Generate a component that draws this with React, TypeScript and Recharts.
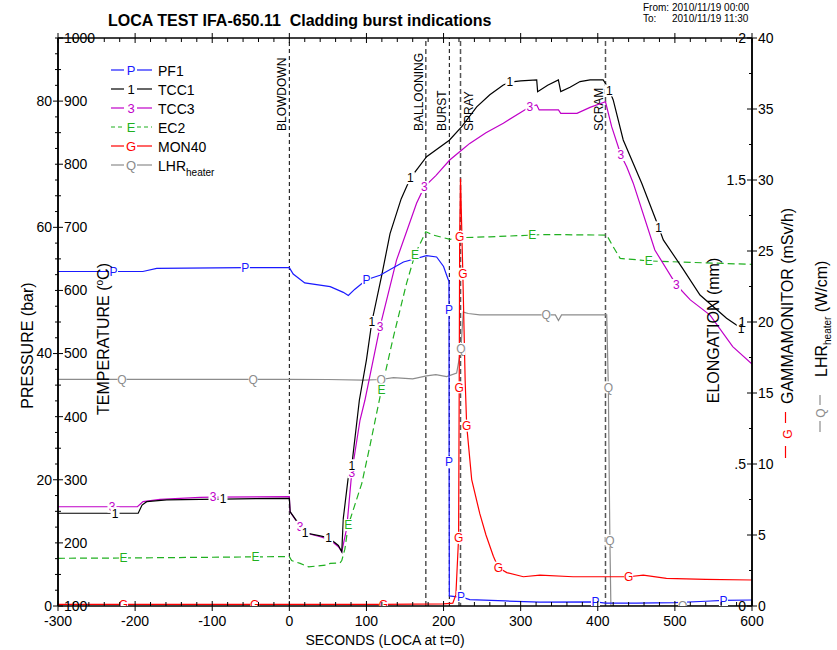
import React from 'react';
import { LineChart, Line, XAxis, YAxis, ReferenceLine } from 'recharts';

const FONT = '"Liberation Sans", Arial, Helvetica, sans-serif';

// PF1 – pressure (bar)
const pf1Time = [-300, -228, -190, -172, -57, 0, 5, 20, 53, 70, 76.5, 85, 100, 117.6, 148, 178, 191, 200, 204, 207, 207.1, 207.2, 207.5, 215, 222.6, 234, 280, 325, 397, 410, 450, 500, 540, 563, 600];
const pf1Val = [53.0, 53.0, 53.0, 53.5, 53.6, 53.6, 52.6, 51.2, 50.6, 49.7, 49.2, 50.2, 51.7, 52.4, 54.5, 55.5, 55.3, 53.8, 52.4, 51.4, 46.9, 22.8, 1.6, 1.5, 1.45, 1.0, 0.8, 0.6, 0.65, 0.45, 0.45, 0.55, 0.75, 0.9, 0.95];
const pf1Marks = [-228, -57, 100, 207.1, 207.2, 222.6, 397, 563];

// TCC1 – cladding temperature (°C)
const tcc1Time = [-300, -226, -196, -191, -185, -159, -116, -86, 0, 1, 14, 20.4, 40, 51, 63.6, 68, 70, 76.5, 81, 90.8, 100, 107, 120, 130.6, 145, 157, 178, 207.5, 223.6, 243, 260, 277.5, 286, 300, 320.8, 322, 335, 348.9, 352, 364, 377, 390, 407, 410, 415, 420, 433, 457, 479, 485, 510, 532.6, 567, 586];
const tcc1Val = [247, 247, 247, 260, 265.3, 268, 269, 269.5, 270.6, 249.4, 227, 216, 211, 208, 196, 186, 239, 305, 323, 426, 490, 550, 625, 690, 745, 778, 812, 838, 859.5, 891, 910, 925.5, 930, 932, 933.5, 915, 925, 933.5, 915, 922, 931, 933.5, 933.5, 928, 917, 901.8, 838.4, 769.8, 700, 680, 635, 592.8, 556, 540];
const tcc1Marks = [-226, -86, 20.4, 51, 81, 107, 157, 286, 415, 479, 586];

// TCC3 – cladding temperature (°C)
const tcc3Time = [-300, -230, -197, -189.7, -167.7, -115.8, -99, 0, 1, 14, 22.5, 40, 53, 63.6, 68, 74.4, 81, 91.7, 98, 117.6, 139, 165, 175, 190, 208, 223.6, 234, 255, 277.5, 312, 320.8, 324, 349, 352, 373, 390, 410, 418, 430, 437.5, 446, 474, 502, 520, 545.6, 575, 600];
const tcc3Val = [257.3, 257.3, 257.3, 265.3, 269, 272.2, 272.5, 273.2, 249.4, 225.6, 215.2, 209.8, 204.6, 194, 186, 223, 312, 394.7, 426, 542.6, 648, 738, 764, 782, 806.7, 822.6, 833, 850, 865, 891, 893.9, 886, 886, 880.6, 880.6, 890, 899, 859.5, 814.6, 796, 770, 664, 608.6, 585, 561, 511, 483.5];
const tcc3Marks = [-230, -99, 14, 81, 117.6, 175, 312, 430, 502];

// EC2 – elongation (mm)
const ec2Time = [-300, -215, -44, 0, 3, 14, 25, 48.5, 53, 65.8, 68, 72, 76.5, 94, 105, 119.6, 135, 152, 163, 177, 187, 208.4, 223.6, 260, 315, 330, 411.6, 420, 429, 455, 466, 520, 600];
const ec2Val = [0.168, 0.169, 0.173, 0.174, 0.16, 0.15, 0.138, 0.144, 0.15, 0.152, 0.16, 0.2, 0.285, 0.432, 0.57, 0.763, 0.948, 1.136, 1.238, 1.318, 1.306, 1.291, 1.297, 1.3, 1.306, 1.308, 1.306, 1.265, 1.224, 1.218, 1.215, 1.21, 1.203];
const ec2Marks = [-215, -44, 76.5, 119.6, 163, 315, 466];

// MON40 – gamma monitor (mSv/h)
const mon40Time = [-300, -215, -45, 0, 122, 200, 212, 216, 219.5, 220.3, 220.9, 222, 225, 228, 230, 236.5, 247, 255, 264.6, 271, 282, 303.5, 325, 368, 411.6, 440, 459, 489, 540, 600];
const mon40Val = [0.12, 0.12, 0.12, 0.12, 0.12, 0.15, 0.2, 0.8, 4.8, 15.4, 26, 30.1, 23.4, 15.9, 12.7, 8.9, 6.5, 5.0, 3.5, 2.7, 2.35, 2.06, 2.18, 2.06, 2.06, 2.06, 2.18, 1.95, 1.88, 1.83];
const mon40Marks = [-215, -45, 122, 219.5, 220.3, 220.9, 225, 230, 271, 440];

// LHR heater (W/cm)
const lhrTime = [-300, -217, -47, 0, 50, 96, 119, 135, 160, 178, 190, 204, 217, 222.5, 225.6, 232, 247, 290, 333, 345, 349, 353, 380, 411.6, 413.7, 415.7, 417, 450, 510, 600];
const lhrVal = [15.96, 15.96, 15.96, 15.96, 15.95, 15.9, 15.95, 16.08, 16.0, 16.2, 16.3, 16.15, 16.4, 18.1, 20.7, 20.6, 20.5, 20.5, 20.5, 20.5, 20.1, 20.5, 20.5, 20.5, 15.4, 4.6, 0, 0, 0, 0];
const lhrMarks = [-217, -47, 119, 222.5, 333, 413.7, 415.7, 510];

// events (seconds)
const eventNames = ['BLOWDOWN', 'BALLOONING', 'BURST', 'SPRAY', 'SCRAM'];
const eventTimes = [0, 177, 207.5, 222, 410];

// axis ticks
const xTicks = Array.from({ length: 46 }, (_, i) => -300 + i * 20);
const pTicks = Array.from({ length: 37 }, (_, i) => i * 2.5);
const tTicks = Array.from({ length: 19 }, (_, i) => 100 + i * 50);
const eTicks = Array.from({ length: 17 }, (_, i) => i * 0.125);
const gTicks = [0, 5, 10, 15, 20, 25, 30, 35, 40];

const BLUE = '#1a1aff';
const BLACK = '#000000';
const MAGENTA = '#c000c8';
const GREEN = '#20b020';
const RED = '#ff0000';
const GRAY = '#8c8c8c';

const toPoints = (t: number[], v: number[]) => t.map((x, i) => ({ t: x, v: v[i] }));

const AXIS = { stroke: '#000', strokeWidth: 1.5 };

const BottomTick = (p: any) => {
  const { x, y, payload } = p;
  const v = payload.value;
  if (v % 100 === 0) {
    return (
      <g>
        <line x1={x} x2={x} y1={y - 5} y2={y + 5} stroke="#000" />
        <text x={x} y={y + 20} textAnchor="middle" fontSize={14} fontFamily={FONT} fill="#000">{v}</text>
      </g>
    );
  }
  return <line x1={x} x2={x} y1={y} y2={y - 4} stroke="#000" />;
};

const TopTick = (p: any) => {
  const { x, y, payload } = p;
  const v = payload.value;
  if (v % 100 === 0) return <line x1={x} x2={x} y1={y - 5} y2={y + 5} stroke="#000" />;
  return <line x1={x} x2={x} y1={y} y2={y + 4} stroke="#000" />;
};

const PressureTick = (p: any) => {
  const { x, y, payload } = p;
  const v = payload.value;
  if (v % 20 === 0) {
    return (
      <g>
        <line x1={x - 5} x2={x} y1={y} y2={y} stroke="#000" />
        <text x={x - 6} y={y} dy="0.35em" textAnchor="end" fontSize={14} fontFamily={FONT} fill="#000">{v}</text>
      </g>
    );
  }
  return <line x1={x - 3} x2={x} y1={y} y2={y} stroke="#000" />;
};

const TempTick = (p: any) => {
  const { x, y, payload } = p;
  const v = payload.value;
  if (v % 100 === 0) {
    return (
      <g>
        <line x1={x} x2={x + 5} y1={y} y2={y} stroke="#000" />
        <text x={x + 6} y={y} dy="0.35em" textAnchor="start" fontSize={14} fontFamily={FONT} fill="#000">{v}</text>
      </g>
    );
  }
  return <line x1={x} x2={x + 3} y1={y} y2={y} stroke="#000" />;
};

const ElongTick = (p: any) => {
  const { x, y, payload } = p;
  const v = payload.value;
  const major = Number.isInteger(v * 4);
  const labelled = Number.isInteger(v * 2);
  const txt = v === 0.5 ? '.5' : String(v);
  return (
    <g>
      <line x1={x - (major ? 5 : 3)} x2={x} y1={y} y2={y} stroke="#000" />
      {labelled && (
        <text x={x - 6} y={y} dy="0.35em" textAnchor="end" fontSize={14} fontFamily={FONT} fill="#000">{txt}</text>
      )}
    </g>
  );
};

const GammaTick = (p: any) => {
  const { x, y, payload } = p;
  return (
    <g>
      <line x1={x} x2={x + 5} y1={y} y2={y} stroke="#000" />
      <text x={x + 6} y={y} dy="0.35em" textAnchor="start" fontSize={14} fontFamily={FONT} fill="#000">{payload.value}</text>
    </g>
  );
};

const EventLabel = (p: any) => {
  const { viewBox, text, dx } = p;
  const x = viewBox.x + dx;
  return (
    <text transform={`translate(${x},131) rotate(-90)`} fontSize={12} fontFamily={FONT} fill="#000">{text}</text>
  );
};

const makeMark = (letter: string, color: string, marks: number[]) => (p: any) => {
  const { cx, cy, payload, index } = p;
  const k = `m-${letter}-${index}`;
  if (cx == null || !payload || !marks.includes(payload.t)) return <g key={k} />;
  return (
    <g key={k}>
      <rect x={cx - 4.5} y={cy - 6} width={9} height={12} fill="#fff" />
      <text x={cx} y={cy} dy="0.36em" textAnchor="middle" fontSize={12} fontFamily={FONT} fill={color}>{letter}</text>
    </g>
  );
};

const series = [
  { name: 'LHR', letter: 'Q', color: GRAY, axis: 'G', data: toPoints(lhrTime, lhrVal), marks: lhrMarks, dash: undefined },
  { name: 'EC2', letter: 'E', color: GREEN, axis: 'E', data: toPoints(ec2Time, ec2Val), marks: ec2Marks, dash: '7 4' },
  { name: 'TCC3', letter: '3', color: MAGENTA, axis: 'T', data: toPoints(tcc3Time, tcc3Val), marks: tcc3Marks, dash: undefined },
  { name: 'TCC1', letter: '1', color: BLACK, axis: 'T', data: toPoints(tcc1Time, tcc1Val), marks: tcc1Marks, dash: undefined },
  { name: 'PF1', letter: 'P', color: BLUE, axis: 'p', data: toPoints(pf1Time, pf1Val), marks: pf1Marks, dash: undefined },
  { name: 'MON40', letter: 'G', color: RED, axis: 'G', data: toPoints(mon40Time, mon40Val), marks: mon40Marks, dash: undefined },
];

const legendRows = [
  { letter: 'P', name: 'PF1', color: BLUE },
  { letter: '1', name: 'TCC1', color: BLACK },
  { letter: '3', name: 'TCC3', color: MAGENTA },
  { letter: 'E', name: 'EC2', color: GREEN },
  { letter: 'G', name: 'MON40', color: RED },
  { letter: 'Q', name: 'LHR', color: GRAY },
];

const eventStyle = [
  { stroke: '#000', width: 1, dash: '4 3', dx: -3 },
  { stroke: '#555', width: 1.5, dash: '5 3', dx: -3 },
  { stroke: '#000', width: 1, dash: '4 3', dx: -3.5 },
  { stroke: '#555', width: 1.5, dash: '5 3', dx: 12 },
  { stroke: '#555', width: 1.5, dash: '5 3', dx: -2.5 },
];

const Overlay = () => (
  <svg width={837} height={650} style={{ position: 'absolute', left: 0, top: 0, pointerEvents: 'none' }} fontFamily={FONT}>
    <text x={108} y={26} fontSize={16} fontWeight="bold" style={{ whiteSpace: 'pre' }}>LOCA TEST IFA-650.11  Cladding burst indications</text>
    <text x={643} y={11} fontSize={10}>From:</text>
    <text x={672} y={11} fontSize={10}>2010/11/19 00:00</text>
    <text x={643} y={22} fontSize={10}>To:</text>
    <text x={672} y={22} fontSize={10}>2010/11/19 11:30</text>

    {legendRows.map((r, i) => {
      const y = 70 + i * 19;
      return (
        <g key={r.name}>
          <line x1={111} x2={124} y1={y} y2={y} stroke={r.color} strokeWidth={1.2} strokeDasharray={r.name === 'EC2' ? '4 3' : undefined} />
          <text x={131} y={y} dy="0.36em" textAnchor="middle" fontSize={13} fill={r.color}>{r.letter}</text>
          <line x1={137} x2={152} y1={y} y2={y} stroke={r.color} strokeWidth={1.2} strokeDasharray={r.name === 'EC2' ? '4 3' : undefined} />
          <text x={158} y={y + 5.5} fontSize={14} fill="#000">
            {r.name}
            {r.name === 'LHR' && <tspan dy={5} fontSize={10}>heater</tspan>}
          </text>
        </g>
      );
    })}

    <text transform="translate(33,345.5) rotate(-90)" textAnchor="middle" fontSize={16}>PRESSURE (bar)</text>
    <text transform="translate(109,339) rotate(-90)" textAnchor="middle" fontSize={16}>
      TEMPERATURE (<tspan dy={-6} fontSize={10}>o</tspan><tspan dy={6}>C)</tspan>
    </text>
    <text x={385} y={645} textAnchor="middle" fontSize={14}>SECONDS (LOCA at t=0)</text>

    <text transform="translate(719,330.5) rotate(-90)" textAnchor="middle" fontSize={16}>ELONGATION (mm)</text>

    <line x1={785.5} x2={785.5} y1={412} y2={423} stroke={RED} strokeWidth={1.2} />
    <text transform="translate(791.5,434) rotate(-90)" textAnchor="middle" fontSize={12} fill={RED}>G</text>
    <line x1={785.5} x2={785.5} y1={446} y2={458} stroke={RED} strokeWidth={1.2} />
    <text transform="translate(793,404) rotate(-90)" fontSize={16}>GAMMAMONITOR (mSv/h)</text>

    <line x1={820} x2={820} y1={395} y2={405} stroke={GRAY} strokeWidth={1.2} />
    <text transform="translate(824.5,413) rotate(-90)" textAnchor="middle" fontSize={12} fill={GRAY}>Q</text>
    <line x1={820} x2={820} y1={421} y2={432} stroke={GRAY} strokeWidth={1.2} />
    <text transform="translate(827,377) rotate(-90)" fontSize={16}>
      LHR<tspan dy={4} fontSize={10}>heater</tspan><tspan dy={-4} fontSize={16}> (W/cm)</tspan>
    </text>
  </svg>
);

export default function App() {
  return (
    <div style={{ position: 'absolute', left: 0, top: 0, width: 837, height: 650, background: '#fff', fontFamily: FONT }}>
      <LineChart width={837} height={650} margin={{ top: 38, right: 55, bottom: 14, left: 8 }}>
        <XAxis xAxisId="b" type="number" dataKey="t" domain={[-300, 600]} ticks={xTicks} interval={0}
          tickSize={0} tickMargin={0} tickLine={false} tick={<BottomTick />} height={30} axisLine={AXIS} allowDataOverflow />
        <XAxis xAxisId="top" orientation="top" mirror type="number" dataKey="t" domain={[-300, 600]} ticks={xTicks} interval={0}
          tickSize={0} tickMargin={0} tickLine={false} tick={<TopTick />} axisLine={AXIS} allowDataOverflow />
        <YAxis yAxisId="p" orientation="left" width={50} type="number" domain={[0, 90]} ticks={pTicks} interval={0}
          tickSize={0} tickMargin={0} tickLine={false} tick={<PressureTick />} axisLine={AXIS} allowDataOverflow />
        <YAxis yAxisId="T" orientation="left" mirror type="number" domain={[100, 1000]} ticks={tTicks} interval={0}
          tickSize={0} tickMargin={0} tickLine={false} tick={<TempTick />} axisLine={AXIS} allowDataOverflow />
        <YAxis yAxisId="E" orientation="right" mirror width={40} type="number" domain={[0, 2]} ticks={eTicks} interval={0}
          tickSize={0} tickMargin={0} tickLine={false} tick={<ElongTick />} axisLine={AXIS} allowDataOverflow />
        <YAxis yAxisId="G" orientation="right" width={30} type="number" domain={[0, 40]} ticks={gTicks} interval={0}
          tickSize={0} tickMargin={0} tickLine={false} tick={<GammaTick />} axisLine={AXIS} allowDataOverflow />

        {eventTimes.map((t, i) => (
          <ReferenceLine key={eventNames[i]} x={t} xAxisId="b" yAxisId="T" stroke={eventStyle[i].stroke}
            strokeWidth={eventStyle[i].width} strokeDasharray={eventStyle[i].dash}
            label={<EventLabel text={eventNames[i]} dx={eventStyle[i].dx} />} />
        ))}

        {series.map(s => (
          <Line key={s.name} data={s.data} dataKey="v" xAxisId="b" yAxisId={s.axis} type="linear"
            stroke={s.color} strokeWidth={1.2} strokeDasharray={s.dash}
            dot={makeMark(s.letter, s.color, s.marks)} activeDot={false} isAnimationActive={false} />
        ))}
      </LineChart>
      <Overlay />
    </div>
  );
}
